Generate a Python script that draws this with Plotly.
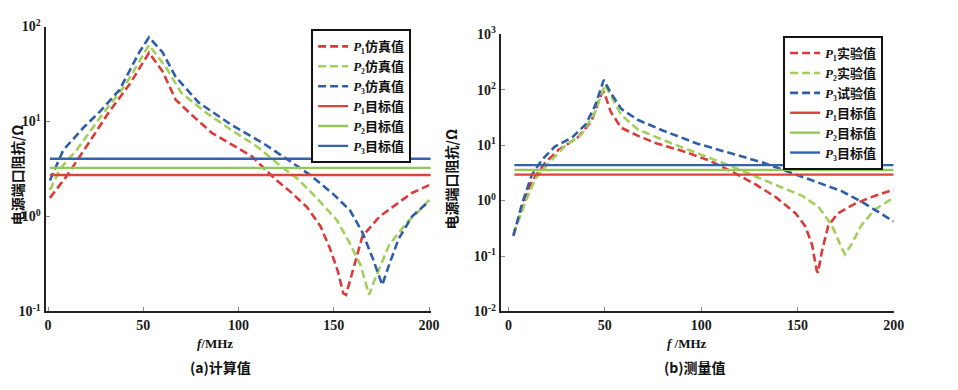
import plotly.graph_objects as go

# ---------------- data: (a) calculated ----------------
f_p1_calc = [1, 10, 20, 32, 43, 52, 53, 60, 67, 75.5, 86, 96, 107, 119, 127, 136, 143, 148, 152, 155, 156.4, 160, 165, 174, 183, 191, 200]
z_p1_calc = [1.57, 2.7, 5.4, 12.6, 25, 50, 53, 34, 17, 11.7, 7.6, 5.8, 4.3, 2.5, 1.84, 1.25, 0.79, 0.46, 0.27, 0.155, 0.15, 0.27, 0.62, 1.0, 1.35, 1.77, 2.14]

f_p2_calc = [1, 6.5, 15, 27, 41, 52, 53, 62, 70, 82.5, 96, 110, 122, 131, 141, 151.5, 158, 164, 168, 168.5, 172, 179, 188, 195, 200]
z_p2_calc = [1.9, 3.2, 5, 10.8, 25, 60, 64, 37, 20, 12.6, 8.2, 5.4, 3.4, 2.5, 1.57, 0.92, 0.54, 0.31, 0.156, 0.15, 0.23, 0.5, 0.85, 1.16, 1.5]

f_p3_calc = [1, 8, 18.5, 27, 37.5, 48, 53, 60, 67, 79, 96, 113.5, 125.6, 138, 150, 158.5, 165, 170.5, 175, 175.4, 179, 184, 191, 200]
z_p3_calc = [2.4, 5, 8.6, 12.6, 21.5, 54, 77, 54, 29.5, 15.9, 9.3, 5.8, 4.0, 2.7, 1.7, 1.16, 0.68, 0.36, 0.2, 0.19, 0.31, 0.58, 1.0, 1.45]

target_f_calc = [1, 201]
target_calc = [2.74, 3.25, 4.06]

# ---------------- data: (b) measured ----------------
f_p1_meas = [2.5, 7, 12, 19, 26, 36, 43, 48, 49.5, 53, 58.5, 67, 77, 91, 104.6, 118, 128.5, 139, 149, 154, 157.6, 160, 160.7, 162.7, 166, 171, 180, 188, 200]
z_p1_meas = [0.24, 0.77, 2.2, 4.85, 8.2, 13.8, 27, 80, 93, 40, 20.6, 14.8, 10.7, 7.7, 5.2, 3.06, 1.93, 1.14, 0.59, 0.35, 0.16, 0.055, 0.05, 0.12, 0.35, 0.59, 0.88, 1.14, 1.58]

f_p2_meas = [2.5, 9, 14, 21, 29, 38, 45, 50, 54, 58.5, 67, 80.7, 97.8, 115, 128.5, 142, 152.5, 161, 168, 173, 174.7, 178, 183, 190, 200]
z_p2_meas = [0.25, 1.0, 2.5, 4.85, 9.4, 15.8, 40, 122, 68, 35, 19.3, 12.2, 7.2, 4.26, 2.69, 1.7, 1.22, 0.77, 0.35, 0.14, 0.107, 0.16, 0.35, 0.68, 1.14]

f_p3_meas = [2.5, 7, 12, 17.4, 24, 33, 40, 45, 49.4, 53, 58.5, 67, 80.7, 97.8, 115, 132, 145.6, 159, 173, 185, 200]
z_p3_meas = [0.23, 0.88, 2.87, 5.5, 9.4, 13.8, 23.6, 52, 150, 88, 45, 28.6, 18, 10.7, 7.2, 4.85, 3.27, 2.2, 1.48, 0.88, 0.42]

target_f_meas = [3, 200]
target_meas = [2.94, 3.58, 4.36]

# ---------------- labels ----------------
x_ticks = [0, 50, 100, 150, 200]
y_ticks_calc = [0.1, 1, 10, 100]
y_text_calc = ["10<sup>-1</sup>", "10<sup>0</sup>", "10<sup>1</sup>", "10<sup>2</sup>"]
y_ticks_meas = [0.01, 0.1, 1, 10, 100, 1000]
y_text_meas = ["10<sup>-2</sup>", "10<sup>-1</sup>", "10<sup>0</sup>", "10<sup>1</sup>", "10<sup>2</sup>", "10<sup>3</sup>"]

names_calc = ["<i>P</i>₁仿真值", "<i>P</i>₂仿真值", "<i>P</i>₃仿真值"]
names_meas = ["<i>P</i>₁实验值", "<i>P</i>₂实验值", "<i>P</i>₃试验值"]
names_target = ["<i>P</i>₁目标值", "<i>P</i>₂目标值", "<i>P</i>₃目标值"]

dash_colors = ["#dc3a3a", "#a3cf5a", "#2f5ea8"]
solid_colors = ["#d9443e", "#93c858", "#3463ac"]

SERIF = "Liberation Serif, Times New Roman, Noto Sans CJK SC, serif"
CJK = "Noto Sans CJK SC, Liberation Serif, sans-serif"
LEG = "Liberation Serif, Noto Sans CJK SC, serif"

fig = go.Figure()

calc = [(f_p1_calc, z_p1_calc), (f_p2_calc, z_p2_calc), (f_p3_calc, z_p3_calc)]
meas = [(f_p1_meas, z_p1_meas), (f_p2_meas, z_p2_meas), (f_p3_meas, z_p3_meas)]

for i, (fx, zy) in enumerate(calc):
    fig.add_trace(go.Scatter(x=fx, y=zy, mode="lines", name=names_calc[i],
                             line=dict(color=dash_colors[i], width=2.6, dash="8px,4px"),
                             xaxis="x", yaxis="y", legend="legend"))
for i, v in enumerate(target_calc):
    fig.add_trace(go.Scatter(x=target_f_calc, y=[v, v], mode="lines", name=names_target[i],
                             line=dict(color=solid_colors[i], width=2.4),
                             xaxis="x", yaxis="y", legend="legend"))

for i, (fx, zy) in enumerate(meas):
    fig.add_trace(go.Scatter(x=fx, y=zy, mode="lines", name=names_meas[i],
                             line=dict(color=dash_colors[i], width=2.6, dash="8px,4px"),
                             xaxis="x2", yaxis="y2", legend="legend2"))
for i, v in enumerate(target_meas):
    fig.add_trace(go.Scatter(x=target_f_meas, y=[v, v], mode="lines", name=names_target[i],
                             line=dict(color=solid_colors[i], width=2.4),
                             xaxis="x2", yaxis="y2", legend="legend2"))

OFF = 8  # page body margin offset
W, H = 958 - OFF, 390 - OFF

def px(x):
    return (x - OFF) / W

def py(y):
    return 1 - (y - OFF) / H

tickfont = dict(family=SERIF, size=14, color="#1a1a1a", weight="bold")
axis_common = dict(showline=True, linecolor="#222", linewidth=2, ticks="inside", ticklen=4,
                   tickcolor="#888", showgrid=False, zeroline=False, tickfont=tickfont, mirror=False)

legfont = dict(family=LEG, size=13, color="#111", weight="bold")

fig.update_layout(
    width=W, height=H,
    margin=dict(l=0, r=0, t=0, b=0),
    paper_bgcolor="white", plot_bgcolor="white",
    xaxis=dict(domain=[px(45), px(435)], range=[-1.3, 200.8], tickvals=x_ticks,
               anchor="y", **axis_common),
    yaxis=dict(domain=[py(316), py(17)], type="log", range=[-1, 2], tickvals=y_ticks_calc,
               ticktext=y_text_calc, anchor="x", **axis_common),
    xaxis2=dict(domain=[px(506), px(904)], range=[-4.1, 200], tickvals=x_ticks,
                anchor="y2", **axis_common),
    yaxis2=dict(domain=[py(316), py(25)], type="log", range=[-2, 3], tickvals=y_ticks_meas,
                ticktext=y_text_meas, anchor="x2", **axis_common),
    legend=dict(x=px(314), y=py(20), xanchor="left", yanchor="top",
                bordercolor="#111", borderwidth=2, bgcolor="white",
                font=legfont, itemwidth=30, tracegroupgap=0),
    legend2=dict(x=px(792), y=py(27), xanchor="left", yanchor="top",
                 bordercolor="#111", borderwidth=2, bgcolor="white",
                 font=legfont, itemwidth=30, tracegroupgap=0),
    showlegend=True,
)

def a(text, x, y, font, angle=0):
    return dict(text=text, x=px(x), y=py(y), xref="paper", yref="paper",
                xanchor="center", yanchor="middle", textangle=angle,
                showarrow=False, font=font)

labfont = dict(family=CJK, size=14, color="#111", weight="bold")
ann = [
    a("电源端口阻抗/Ω", 16, 172, labfont, -90),
    a("电源端口阻抗/Ω", 456, 177, labfont, -90),
    a("<i>f</i>/MHz", 217, 350, dict(family=SERIF, size=13, color="#111", weight="bold")),
    a("<i>f</i> /MHz", 695, 350, dict(family=SERIF, size=13, color="#111", weight="bold")),
    a("(a)计算值", 222, 374, labfont),
    a("(b)测量值", 703, 374, labfont),
]
fig.update_layout(annotations=ann)

fig.write_html("out.html")
